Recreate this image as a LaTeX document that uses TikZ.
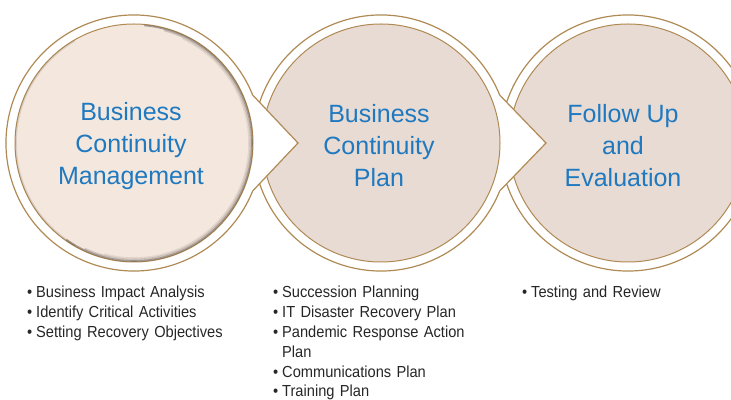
\documentclass[tikz,border=0pt]{standalone}
\usepackage{fontspec}
\setmainfont{Liberation Sans}
\newfontfamily\listfont[FakeStretch=0.915,WordSpace=0.7]{Liberation Sans}
\usetikzlibrary{calc}

\definecolor{ringgold}{RGB}{176,138,84}
\definecolor{titleblue}{RGB}{31,121,192}
\definecolor{peach}{RGB}{244,232,222}
\definecolor{sand}{RGB}{232,219,211}
\definecolor{listgray}{RGB}{38,38,38}
\definecolor{edgedark}{RGB}{70,60,55}

\newenvironment{steplist}{\begin{list}{\textbullet}{%
  \setlength\leftmargin{10pt}\setlength\labelwidth{6pt}\setlength\labelsep{4pt}%
  \setlength\itemsep{0pt}\setlength\parsep{0pt}\setlength\topsep{0pt}\setlength\partopsep{0pt}}}%
  {\end{list}}

\begin{document}
\begin{tikzpicture}[
    x=1pt, y=1pt,
    ring/.style={draw=ringgold, line width=1.2pt, fill=white},
    disc/.style={draw=ringgold, line width=1pt},
    shadowedge/.style={line width=1.6pt, draw=edgedark},
    title/.style={align=center, text=titleblue, inner sep=0pt,
      font=\fontsize{25}{32}\selectfont},
    bullets/.style={anchor=north west, inner sep=0pt, text width=200pt, text=listgray,
      font=\listfont\fontsize{16}{19.8}\selectfont}
  ]
  \path[use as bounding box] (0,0) rectangle (731,399);
  \clip (0,0) rectangle (731,399);

  % Centres of the three stages
  \coordinate (bcm) at (134,256);
  \coordinate (bcp) at (381,256);
  \coordinate (fue) at (628,256);

  % Stage 3 (drawn first, it sits underneath)
  \draw[ring] ($(fue)+(22:128)$) arc[start angle=22, end angle=338, radius=128] -- ($(fue)+(165,0)$) -- cycle;
  \draw[disc, fill=sand] (fue) circle[radius=119];

  % Stage 2
  \draw[ring] ($(bcp)+(22:128)$) arc[start angle=22, end angle=338, radius=128] -- ($(bcp)+(165,0)$) -- cycle;
  \draw[disc, fill=sand] (bcp) circle[radius=119];

  % Stage 1 (lighter, with a soft dark inner edge)
  \draw[ring] ($(bcm)+(22:128)$) arc[start angle=22, end angle=338, radius=128] -- ($(bcm)+(164,0)$) -- cycle;
  \draw[disc, fill=peach] (bcm) circle[radius=119];
  \draw[shadowedge, opacity=0.45] ($(bcm)+(85:118)$) arc[start angle=85, end angle=-125, radius=118];
  \draw[shadowedge, opacity=0.22] ($(bcm)+(75:116.5)$) arc[start angle=75, end angle=-115, radius=116.5];
  \draw[shadowedge, opacity=0.1] ($(bcm)+(65:115)$) arc[start angle=65, end angle=-105, radius=115];
  \draw[shadowedge, opacity=0.15] ($(bcm)+(120:118)$) arc[start angle=120, end angle=240, radius=118];

  % Stage titles
  \node[title] (bcm text) at ($(bcm)+(-3,-3)$) {Business\\Continuity\\Management};
  \node[title] (bcp text) at ($(bcp)+(-2,-3)$) {Business\\Continuity\\Plan};
  \node[title] (fue text) at ($(fue)+(-5,-3)$) {Follow Up\\and\\Evaluation};

  % Activities under each stage
  \node[bullets] (bcm list) at (26,121) {\begin{steplist}
      \item Business Impact Analysis
      \item Identify Critical Activities
      \item Setting Recovery Objectives
    \end{steplist}};
  \node[bullets] (bcp list) at (272,121) {\begin{steplist}
      \item Succession Planning
      \item IT Disaster Recovery Plan
      \item Pandemic Response Action\\Plan
      \item Communications Plan
      \item Training Plan
    \end{steplist}};
  \node[bullets] (fue list) at (521,121) {\begin{steplist}
      \item Testing and Review
    \end{steplist}};

\end{tikzpicture}
\end{document}
